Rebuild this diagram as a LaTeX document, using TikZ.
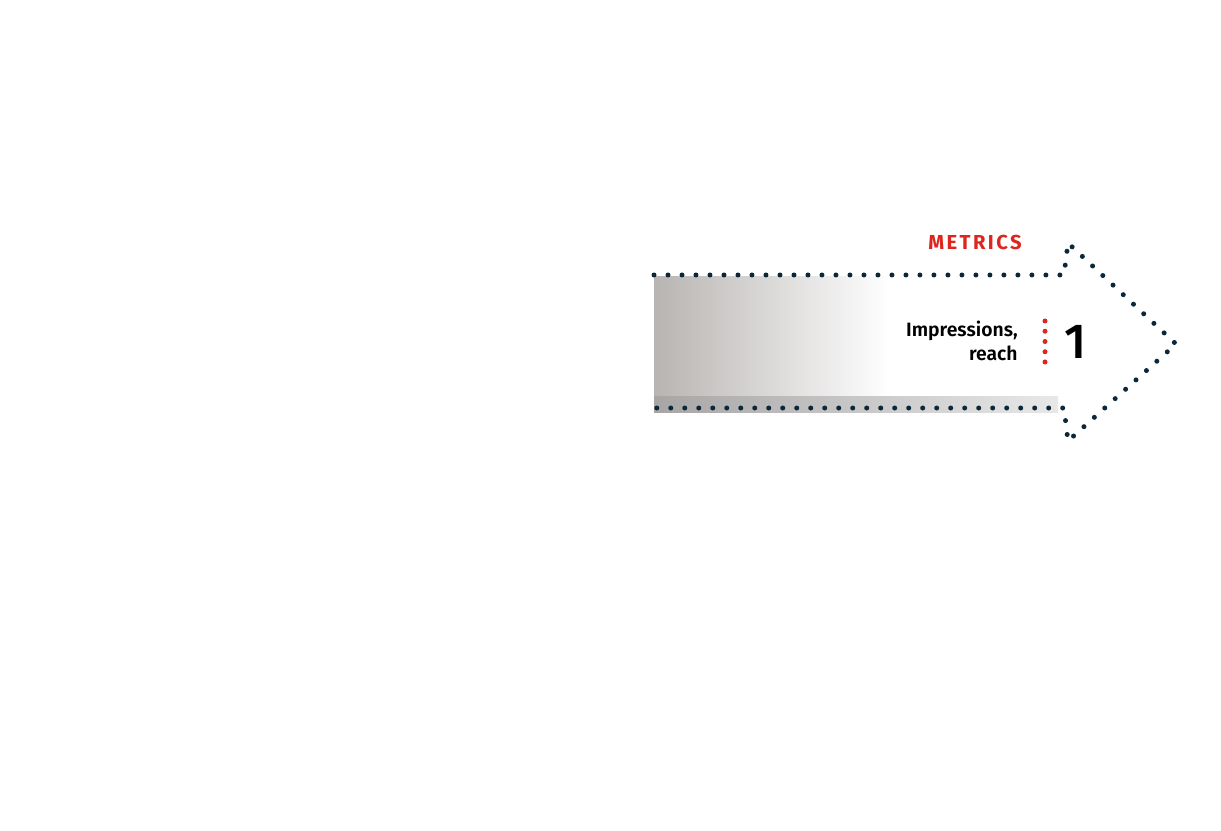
\documentclass[tikz,border=0pt]{standalone}
\usepackage{fontspec}
\setmainfont[BoldFont={Fira Sans SemiBold}]{Fira Sans}
\newfontfamily\metricsfont[LetterSpace=12]{Fira Sans}
\newfontfamily\numberfont{Fira Sans Medium}
\definecolor{navy}{RGB}{10,40,58}
\definecolor{metricred}{RGB}{222,38,30}
\definecolor{shaftgray}{RGB}{184,180,178}
\definecolor{bandgray}{RGB}{168,165,165}
\definecolor{bandlight}{RGB}{232,232,232}
\tikzset{
	dotline/.style={navy, line width=0.1cm, line cap=round, dash pattern=on 0pt off 0.28cm},
	reddots/.style={metricred, line width=0.1cm, line cap=round, dash pattern=on 0pt off 0.205cm},
}
\begin{document}
\begin{tikzpicture}[x=0.02cm, y=-0.02cm]
			\useasboundingbox (0,0) rectangle (1221,831);
			\fill[white] (0,0) rectangle (1221,831);
			
			\shade[left color=shaftgray, right color=white] (654,277) rectangle (890,410);
			\shade[left color=bandgray, right color=bandlight] (654,396) rectangle (1058,412);
			
			\draw [dotline] (654,275) -- (1064,275) -- (1068,243) -- (1176,344) -- (1068,441) -- (1064,408) -- (654,408);
			
			\node[anchor=south east, inner sep=0pt, metricred, font=\metricsfont\bfseries\fontsize{11.5}{13}\selectfont] (metrics) at (1022,250) {METRICS};
			\node[anchor=east, align=right, inner sep=0pt, font=\bfseries\fontsize{11}{14}\selectfont] (label) at (1018,341) {Impressions,\\reach};
			\coordinate (dottop) at (1045,321);
			\coordinate (dotbot) at (1045,363);
			\draw [reddots] (dottop) -- (dotbot);
			\node[anchor=west, inner sep=0pt, font=\numberfont\fontsize{28}{30}\selectfont] (number) at (1064,342) {1};
			
		\end{tikzpicture}
\end{document}
